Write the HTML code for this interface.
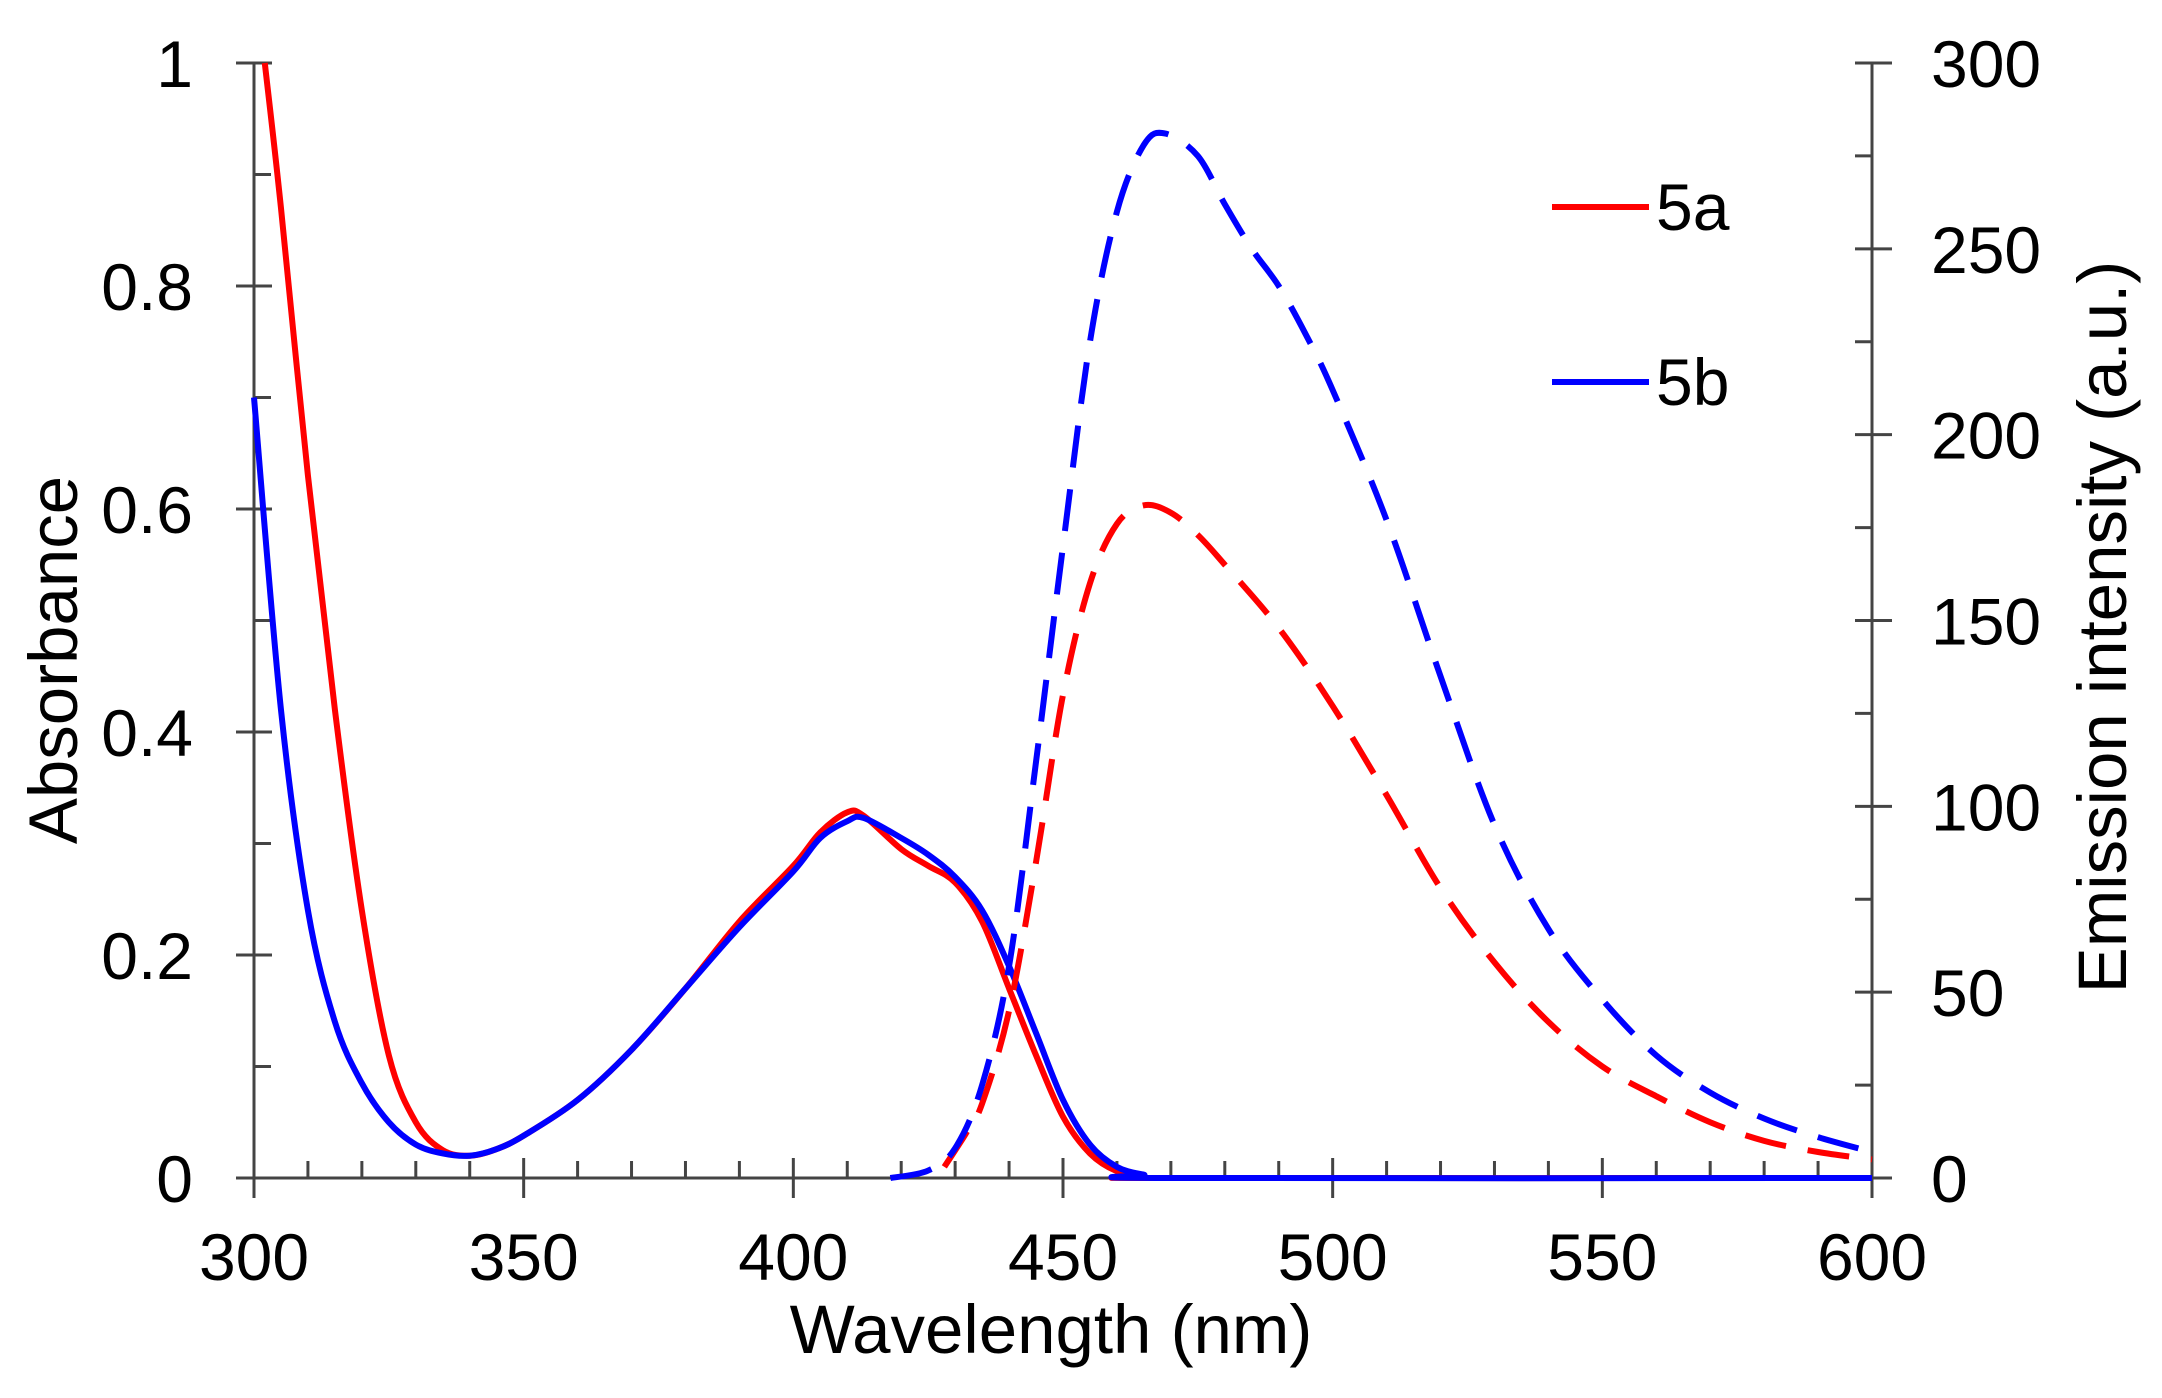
<!DOCTYPE html>
<html><head><meta charset="utf-8"><style>
html,body{margin:0;padding:0;background:#fff;}
svg{display:block;font-family:"Liberation Sans",Arial,sans-serif;}
</style></head><body>
<svg id="chart" width="2162" height="1398" viewBox="0 0 2162 1398" xmlns="http://www.w3.org/2000/svg">
<g id="axes"></g>
<g id="series"></g>
<text x="1051" y="1353" font-size="69" text-anchor="middle" fill="#000">Wavelength (nm)</text>
<text transform="translate(77,660) rotate(-90)" font-size="69" text-anchor="middle" fill="#000">Absorbance</text>
<text transform="translate(2126,627) rotate(-90)" font-size="69" text-anchor="middle" fill="#000">Emission intensity (a.u.)</text>
<g>
<line x1="1552" y1="207" x2="1649" y2="207" stroke="#ff0000" stroke-width="6"/>
<text x="1656" y="230" font-size="66" fill="#000">5a</text>
<line x1="1552" y1="382" x2="1649" y2="382" stroke="#0000ff" stroke-width="6"/>
<text x="1656" y="405" font-size="66" fill="#000">5b</text>
</g>
</svg>
<script>
const xTicks=[300,350,400,450,500,550,600];
const leftTicks=[0,0.2,0.4,0.6,0.8,1];
const leftTickLabels=["0","0.2","0.4","0.6","0.8","1"];
const rightTicks=[0,50,100,150,200,250,300];
const absWl5a=[302,305,310,315,320,325,330,335,340,345,350,360,370,380,390,400,405,410,413,420,425,430,435,440,445,450,455,460,465,470,600];
const abs5a=[1.0,0.87,0.63,0.42,0.24,0.11,0.05,0.025,0.02,0.026,0.038,0.07,0.115,0.17,0.23,0.28,0.31,0.328,0.325,0.295,0.28,0.265,0.23,0.17,0.11,0.055,0.022,0.006,0.001,0,0];
const absWl5b=[300,305,310,315,320,325,330,335,340,345,350,360,370,380,390,400,405,410,413,420,425,430,435,440,445,450,455,460,465,470,600];
const abs5b=[0.7,0.42,0.24,0.14,0.085,0.05,0.03,0.022,0.02,0.026,0.038,0.07,0.115,0.17,0.225,0.275,0.305,0.32,0.323,0.305,0.29,0.27,0.24,0.19,0.13,0.07,0.03,0.01,0.003,0,0];
const emWl5a=[428,432,435,440,445,450,455,460,465,470,475,480,490,500,510,520,530,540,550,560,570,580,590,600];
const em5a=[3,12,20,45,85,130,160,176,181,179,173,165,148,127,103,78,58,42,30,22,15,10,7,5];
const emWl5b=[418,425,430,435,440,445,450,455,460,465,469,475,480,485,490,495,500,510,520,530,540,550,560,570,580,590,600];
const em5b=[0,2,8,25,57,112,170,225,260,278,281,275,262,250,240,227,212,177,135,95,67,48,33,23,16,11,7];

const X0=254,X1=1872,Y0=1178,Y1=63;
const xs=v=>X0+(v-300)/300*(X1-X0);
const yl=v=>Y0-v*(Y0-Y1);
const yr=v=>Y0-v/300*(Y0-Y1);
const NS="http://www.w3.org/2000/svg";
const axes=document.getElementById('axes'),ser=document.getElementById('series');
function mk(tag,attrs,parent){const e=document.createElementNS(NS,tag);for(const k in attrs)e.setAttribute(k,attrs[k]);parent.appendChild(e);return e;}
const ax="#444";
let e=mk('line',{x1:X0-18,y1:Y0,x2:X1,y2:Y0,stroke:ax,'stroke-width':3},axes);


e=mk('line',{x1:X0,y1:Y1,x2:X0,y2:Y0+20,stroke:ax,'stroke-width':3},axes);


e=mk('line',{x1:X1,y1:Y1,x2:X1,y2:Y0+20,stroke:ax,'stroke-width':3},axes);


for(let v=310;v<600;v+=10){if(v%50===0)continue;
 e=mk('line',{x1:xs(v),y1:Y0,x2:xs(v),y2:Y0-17,stroke:ax,'stroke-width':3},axes);
 
 }
xTicks.forEach(v=>{
 e=mk('line',{x1:xs(v),y1:Y0-20,x2:xs(v),y2:Y0+20,stroke:ax,'stroke-width':3},axes);
 
 
 e=mk('text',{x:xs(v),y:1280,'font-size':66,'text-anchor':'middle',fill:'#000'},axes);e.textContent=v;
 
 });
for(let i=1;i<10;i+=2){const v=i/10;
 e=mk('line',{x1:X0,y1:yl(v),x2:X0+17,y2:yl(v),stroke:ax,'stroke-width':3},axes);
 
 }
leftTicks.forEach((v,i)=>{
 e=mk('line',{x1:X0-18,y1:yl(v),x2:X0+18,y2:yl(v),stroke:ax,'stroke-width':3},axes);
 
 
 e=mk('text',{x:193,y:yl(v)+24,'font-size':66,'text-anchor':'end',fill:'#000'},axes);e.textContent=leftTickLabels[i];
 
 });
for(let v=25;v<300;v+=50){
 e=mk('line',{x1:X1-17,y1:yr(v),x2:X1,y2:yr(v),stroke:ax,'stroke-width':3},axes);
 
 }
rightTicks.forEach(v=>{
 e=mk('line',{x1:X1-17,y1:yr(v),x2:X1+20,y2:yr(v),stroke:ax,'stroke-width':3},axes);
 
 
 e=mk('text',{x:1931,y:yr(v)+24,'font-size':66,'text-anchor':'start',fill:'#000'},axes);e.textContent=v;
 
 });
function pathD(px,py){const p=px.map((x,i)=>[x,py[i]]);let d=`M${p[0][0]},${p[0][1]}`;
 for(let i=0;i<p.length-1;i++){const a=p[Math.max(0,i-1)],b=p[i],c=p[i+1],f=p[Math.min(p.length-1,i+2)];
  const c1=[b[0]+(c[0]-a[0])/6,b[1]+(c[1]-a[1])/6],c2=[c[0]-(f[0]-b[0])/6,c[1]-(f[1]-b[1])/6];
  d+=` C${c1[0]},${c1[1]} ${c2[0]},${c2[1]} ${c[0]},${c[1]}`;}return d;}
function line(wl,vals,yf,color,dash){const a={d:pathD(wl.map(xs),vals.map(yf)),fill:'none',stroke:color,'stroke-width':6,'stroke-linejoin':'round'};
 if(dash){a['stroke-dasharray']='42 22';}return mk('path',a,ser);}
e=line(absWl5a,abs5a,yl,'#ff0000',false);


e=line(absWl5b,abs5b,yl,'#0000ff',false);


e=line(emWl5a,em5a,yr,'#ff0000',true);


e=line(emWl5b,em5b,yr,'#0000ff',true);


</script>
</body></html>
